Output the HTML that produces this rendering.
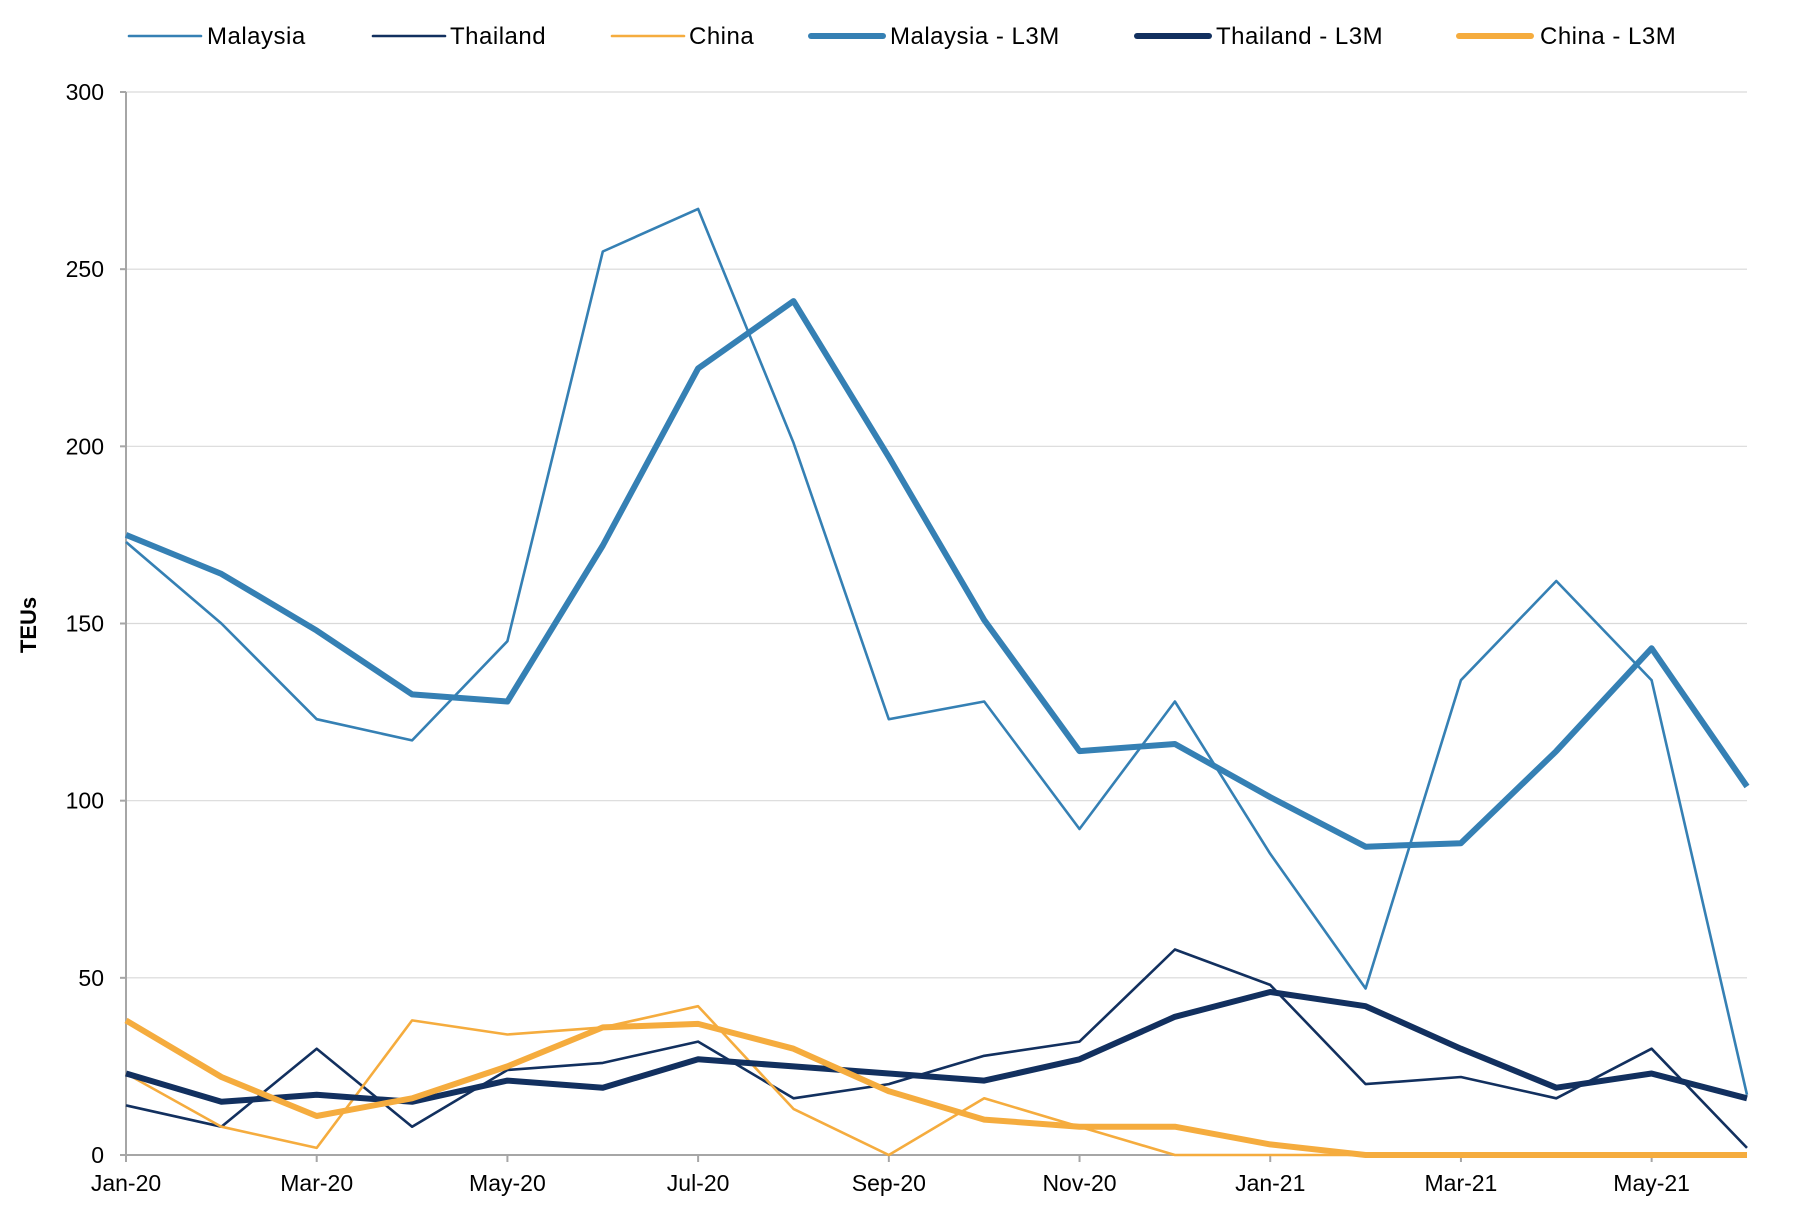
<!DOCTYPE html>
<html><head><meta charset="utf-8"><style>
html,body{margin:0;padding:0;background:#fff;}
svg{display:block;font-family:"Liberation Sans",sans-serif;}
</style></head><body>
<svg id="chart" width="1802" height="1212" viewBox="0 0 1802 1212" xmlns="http://www.w3.org/2000/svg">
<g id="grid"></g>
<g id="yaxis"></g>
<g id="xaxis"></g>
<g id="series"></g>
<g id="legend"></g>
<text x="0" y="0" transform="translate(36,625) rotate(-90)" text-anchor="middle" font-size="22" font-weight="bold" fill="#000">TEUs</text>
</svg>
<script>
const months = ["Jan-20","Feb-20","Mar-20","Apr-20","May-20","Jun-20","Jul-20","Aug-20","Sep-20","Oct-20","Nov-20","Dec-20","Jan-21","Feb-21","Mar-21","Apr-21","May-21","Jun-21"];
const malaysia = [173,150,123,117,145,255,267,201,123,128,92,128,85,47,134,162,134,17];
const thailand = [14,8,30,8,24,26,32,16,20,28,32,58,48,20,22,16,30,2];
const china = [23,8,2,38,34,36,42,13,0,16,8,0,0,0,0,0,0,0];
const malaysiaL3M = [175,164,148,130,128,172,222,241,197,151,114,116,101,87,88,114,143,104];
const thailandL3M = [23,15,17,15,21,19,27,25,23,21,27,39,46,42,30,19,23,16];
const chinaL3M = [38,22,11,16,25,36,37,30,18,10,8,8,3,0,0,0,0,0];
const yTicks = [0,50,100,150,200,250,300];

const NS="http://www.w3.org/2000/svg";
const X0=126,X1=1747,Y0=1155,Y1=92,YMAX=300;
function xs(i){return X0+(X1-X0)*i/(months.length-1);}
function ys(v){return Y0-(Y0-Y1)*v/YMAX;}
function mk(tag,attrs,parent){const e=document.createElementNS(NS,tag);for(const k in attrs)e.setAttribute(k,attrs[k]);parent.appendChild(e);return e;}
const grid=document.getElementById('grid'),yaxis=document.getElementById('yaxis'),xaxis=document.getElementById('xaxis'),series=document.getElementById('series'),legend=document.getElementById('legend');

yTicks.forEach(v=>{
  if(v>0){const g=mk('line',{x1:X0,x2:X1,y1:ys(v),y2:ys(v),stroke:'#d9d9d9','stroke-width':1.2},grid);
  
  }
  const t=mk('line',{x1:X0-6,x2:X0,y1:ys(v),y2:ys(v),stroke:'#a6a6a6','stroke-width':2},yaxis);
  
  
  const l=mk('text',{x:X0-22,y:ys(v)+8,'text-anchor':'end','font-size':23,fill:'#000'},yaxis);
  l.textContent=v;
  
  
});
const ya=mk('line',{x1:X0,x2:X0,y1:Y1,y2:Y0,stroke:'#a6a6a6','stroke-width':2},yaxis);


const xa=mk('line',{x1:X0,x2:X1,y1:Y0,y2:Y0,stroke:'#a6a6a6','stroke-width':2},xaxis);


months.forEach((m,i)=>{
  if(i%2!==0)return;
  const t=mk('line',{x1:xs(i),x2:xs(i),y1:Y0,y2:Y0+7,stroke:'#a6a6a6','stroke-width':2},xaxis);
  
  
  const l=mk('text',{x:xs(i),y:Y0+36,'text-anchor':'middle','font-size':23,fill:'#000'},xaxis);
  l.textContent=m;
  
  
});

const defs=[
 {name:'Malaysia',data:malaysia,color:'#3580b4',w:2.6,lx:129,tx:207},
 {name:'Thailand',data:thailand,color:'#12305f',w:2.6,lx:373,tx:450},
 {name:'China',data:china,color:'#f5ac3e',w:2.6,lx:612,tx:689},
 {name:'Malaysia - L3M',data:malaysiaL3M,color:'#3580b4',w:6,lx:811,tx:890},
 {name:'Thailand - L3M',data:thailandL3M,color:'#12305f',w:6,lx:1137,tx:1216},
 {name:'China - L3M',data:chinaL3M,color:'#f5ac3e',w:6,lx:1459,tx:1540}
];
defs.forEach(d=>{
  const pts=d.data.map((v,i)=>xs(i).toFixed(1)+','+ys(v).toFixed(1)).join(' ');
  const p=mk('polyline',{points:pts,fill:'none',stroke:d.color,'stroke-width':d.w,'stroke-linejoin':'round'},series);
  
  
  const g=mk('g',{},legend);
  
  
  mk('line',{x1:d.lx,x2:d.lx+72,y1:36,y2:36,stroke:d.color,'stroke-width':d.w,'stroke-linecap':'round'},g);
  const t=mk('text',{x:d.tx,y:44,'font-size':24,fill:'#000','letter-spacing':'0.5'},g);
  t.textContent=d.name;
});
</script>
</body></html>
